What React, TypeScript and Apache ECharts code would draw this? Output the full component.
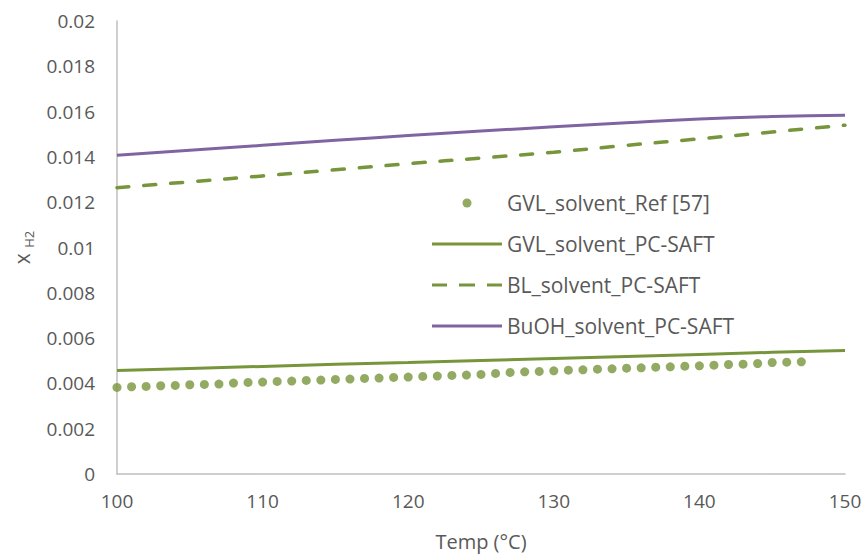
import React, { useEffect, useRef } from "react";
import * as echarts from "echarts";

const refTemps = [100,101,102,103,104,105,106,107,108,109,110,111,112,113,114,115,116,117,118,119,120,121,122,123,124,125,126,127,128,129,130,131,132,133,134,135,136,137,138,139,140,141,142,143,144,145,146,147];
const refValues = [0.003824,0.003853,0.003868,0.003897,0.003912,0.003941,0.003956,0.003971,0.004015,0.004044,0.004059,0.004088,0.004103,0.004132,0.004147,0.004176,0.00419,0.00422,0.004234,0.004264,0.004278,0.004308,0.004322,0.004352,0.004366,0.004396,0.00444,0.004484,0.004513,0.004527,0.004557,0.004586,0.004601,0.00463,0.004645,0.004674,0.004689,0.004718,0.004733,0.004762,0.004777,0.004806,0.004835,0.00485,0.004879,0.004923,0.004938,0.004952];

const modelTemps = [100,105,110,115,120,125,130,135,140,145,150];
const gvlModel = [0.00457,0.00466,0.00475,0.00484,0.00492,0.00501,0.0051,0.00519,0.00528,0.00537,0.00545];
const blModel = [0.01264,0.0129,0.01316,0.01343,0.0137,0.01395,0.01421,0.01451,0.0148,0.0151,0.0154];
const buohModel = [0.01407,0.01429,0.01451,0.01473,0.01494,0.01514,0.01533,0.01551,0.01567,0.01578,0.01584];

const seriesNames = ["GVL_solvent_Ref [57]","GVL_solvent_PC-SAFT","BL_solvent_PC-SAFT","BuOH_solvent_PC-SAFT"];
const xTitle = "Temp (°C)";

const GREEN = "#77953b";
const PURPLE = "#8064a2";
const TEXT = "#595959";
const FONT = "'Open Sans', sans-serif";

// legend icons share a 70x9 box (corner moveTo points fix the bounding box)
const DOT_ICON = "path://M0,0 M70,9 M39.5,4.5A4.5,4.5 0 1 1 30.5,4.5A4.5,4.5 0 1 1 39.5,4.5Z";
const SOLID_ICON = "path://M0,0 M70,9 M0,3h70v3h-70z";
const DASH_ICON = "path://M0,0 M70,9 M0,3h15v3h-15z M27,3h16v3h-16z M55,3h15v3h-15z";

const pairs = (xs: number[], ys: number[]) => xs.map((x, i) => [x, ys[i]]);

export default function App() {
  const ref = useRef<HTMLDivElement>(null);
  useEffect(() => {
    if (!ref.current) return;
    const chart = echarts.init(ref.current, null, { renderer: "svg" });
    chart.setOption({
      animation: false,
      backgroundColor: "#ffffff",
      textStyle: { fontFamily: FONT },
      grid: { left: 117, right: 20, top: 21, bottom: 80 },
      legend: {
        orient: "vertical",
        left: 432,
        top: 192,
        padding: 0,
        itemWidth: 70,
        itemHeight: 9,
        itemGap: 19,
        textStyle: { color: TEXT, fontSize: 21, fontFamily: FONT, lineHeight: 22 },
        data: [
          { name: seriesNames[0], icon: DOT_ICON },
          { name: seriesNames[1], icon: SOLID_ICON },
          { name: seriesNames[2], icon: DASH_ICON },
          { name: seriesNames[3], icon: SOLID_ICON },
        ],
      },
      xAxis: {
        type: "value",
        min: 100,
        max: 150,
        interval: 10,
        name: xTitle,
        nameLocation: "middle",
        nameGap: 57,
        nameTextStyle: { color: TEXT, fontSize: 20, fontFamily: FONT },
        axisLine: { show: true, lineStyle: { color: "#bfbfbf", width: 1.5 } },
        axisTick: { show: false },
        splitLine: { show: false },
        axisLabel: { color: TEXT, fontSize: 19, fontFamily: FONT, margin: 17 },
      },
      yAxis: {
        type: "value",
        min: 0,
        max: 0.02,
        interval: 0.002,
        name: "x {sub|H2}",
        nameLocation: "middle",
        nameRotate: 90,
        nameGap: 82,
        nameTextStyle: {
          color: TEXT,
          fontSize: 21,
          fontFamily: FONT,
          lineHeight: 26,
          rich: {
            sub: { fontSize: 13, color: TEXT, fontFamily: FONT, verticalAlign: "bottom", lineHeight: 14 },
          },
        },
        axisLine: { show: true, lineStyle: { color: "#bfbfbf", width: 1.5 } },
        axisTick: { show: false },
        splitLine: { show: false },
        axisLabel: {
          color: TEXT,
          fontSize: 19,
          fontFamily: FONT,
          margin: 22,
          formatter: (v: number) => String(parseFloat(v.toFixed(4))),
        },
      },
      series: [
        {
          name: seriesNames[0],
          type: "scatter",
          symbol: "circle",
          symbolSize: 9,
          itemStyle: { color: GREEN },
          data: pairs(refTemps, refValues),
          z: 3,
        },
        {
          name: seriesNames[1],
          type: "line",
          symbol: "none",
          lineStyle: { color: GREEN, width: 3 },
          itemStyle: { color: GREEN },
          data: pairs(modelTemps, gvlModel),
        },
        {
          name: seriesNames[2],
          type: "line",
          symbol: "none",
          smooth: true,
          lineStyle: { color: GREEN, width: 3.5, type: [12, 15], cap: "round" },
          itemStyle: { color: GREEN },
          data: pairs(modelTemps, blModel),
        },
        {
          name: seriesNames[3],
          type: "line",
          symbol: "none",
          smooth: true,
          lineStyle: { color: PURPLE, width: 3 },
          itemStyle: { color: PURPLE },
          data: pairs(modelTemps, buohModel),
        },
      ],
    });
    return () => chart.dispose();
  }, []);
  return (
    <div
      ref={ref}
      style={{ position: "fixed", left: 0, top: 0, width: 865, height: 556, background: "#fff" }}
    />
  );
}
